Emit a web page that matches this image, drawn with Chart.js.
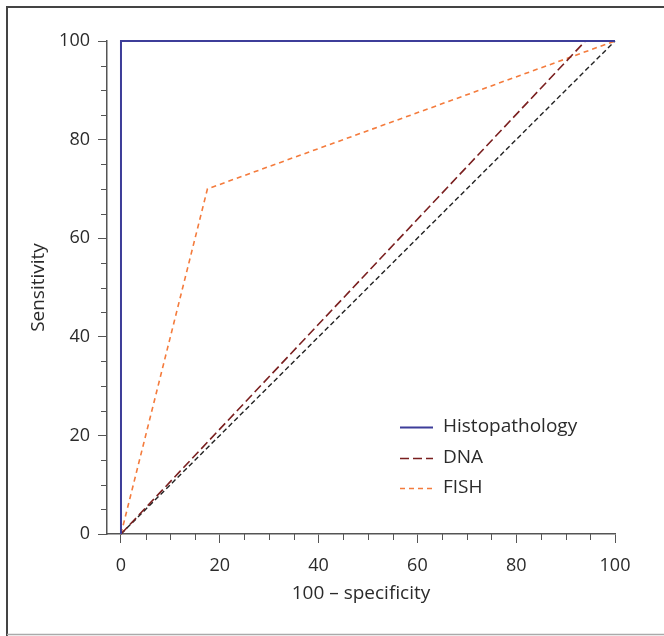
<!DOCTYPE html>
<html>
<head>
<meta charset="utf-8">
<script src="https://cdn.jsdelivr.net/npm/chart.js@4.4.0/dist/chart.umd.min.js"></script>
<style>
html,body{margin:0;padding:0;background:#fff;}
#wrap{width:664px;height:636px;position:relative;}
</style>
</head>
<body>
<div id="wrap"><canvas id="c" width="664" height="636"></canvas></div>
<script>
// ----- data -----
const seriesNames = ['Histopathology', 'DNA', 'FISH'];
const histoX = [0, 0, 100];
const histoY = [0, 100, 100];
const dnaX = [0, 94, 100];
const dnaY = [0, 100, 100];
const fishX = [0, 17.5, 100];
const fishY = [0, 70, 100];
const refX = [0, 100];
const refY = [0, 100];
const tickValues = [0,5,10,15,20,25,30,35,40,45,50,55,60,65,70,75,80,85,90,95,100];
const majorTicks = [0, 20, 40, 60, 80, 100];
const xTitle = '100 \u2013 specificity';
const yTitle = 'Sensitivity';

const pts = (xs, ys) => xs.map((x, i) => ({x: x, y: ys[i]}));
const FONT = '"Open Sans", "DejaVu Sans", sans-serif';
const TXT = '#2b2b2b';
const AXIS = '#555555';

const frame = {
  id: 'frame',
  beforeDraw(chart) {
    const c = chart.ctx;
    c.save();
    c.fillStyle = '#fff';
    c.fillRect(0, 0, chart.width, chart.height);
    c.strokeStyle = '#444';
    c.lineWidth = 2;
    c.beginPath();
    c.moveTo(7, 636); c.lineTo(7, 7); c.lineTo(664, 7);
    c.stroke();
    c.strokeStyle = '#aaaaaa';
    c.lineWidth = 1.5;
    c.beginPath();
    c.moveTo(7, 634.5); c.lineTo(664, 634.5);
    c.stroke();
    c.restore();
  }
};

const minorTicks = {
  id: 'minorTicks',
  afterDraw(chart) {
    const c = chart.ctx;
    const xs = chart.scales.x, ys = chart.scales.y;
    c.save();
    c.strokeStyle = AXIS;
    c.lineWidth = 1;
    tickValues.forEach(v => {
      if (majorTicks.includes(v)) return;
      const px = Math.round(xs.getPixelForValue(v)) + 0.5;
      c.beginPath(); c.moveTo(px, xs.top); c.lineTo(px, xs.top + 6); c.stroke();
      const py = Math.round(ys.getPixelForValue(v)) + 0.5;
      c.beginPath(); c.moveTo(ys.right, py); c.lineTo(ys.right - 6, py); c.stroke();
    });
    c.restore();
  }
};

const legendBox = {
  id: 'legendBox',
  afterDraw(chart) {
    const c = chart.ctx;
    c.save();
    c.font = '19px ' + FONT;
    c.textBaseline = 'middle';
    c.fillStyle = TXT;
    const rows = [427, 458, 488];
    seriesNames.forEach((name, i) => {
      const ds = chart.data.datasets.find(d => d.label === name);
      const y = rows[i] + 0.5;
      c.strokeStyle = ds.borderColor;
      c.lineWidth = ds.borderWidth;
      c.setLineDash(ds.borderDash || []);
      c.beginPath(); c.moveTo(400, y); c.lineTo(433, y); c.stroke();
      c.setLineDash([]);
      c.fillText(name, 443, rows[i]);
    });
    c.restore();
  }
};

new Chart(document.getElementById('c'), {
  type: 'scatter',
  data: {
    datasets: [
      {label: 'Histopathology', data: pts(histoX, histoY), showLine: true, borderColor: '#3d3d99', borderWidth: 2, pointRadius: 0, clip: 5},
      {label: 'DNA', data: pts(dnaX, dnaY), showLine: true, borderColor: '#7a1f1f', borderWidth: 1.6, borderDash: [9, 4], pointRadius: 0, clip: 5},
      {label: 'FISH', data: pts(fishX, fishY), showLine: true, borderColor: '#f47b3c', borderWidth: 1.6, borderDash: [5, 4], pointRadius: 0, clip: 5},
      {label: 'ref', data: pts(refX, refY), showLine: true, borderColor: '#222222', borderWidth: 1.4, borderDash: [5, 3], pointRadius: 0, clip: 5}
    ]
  },
  options: {
    responsive: false,
    animation: false,
    events: [],
    layout: {padding: {left: 0, top: 41, right: 49, bottom: 0}},
    plugins: {legend: {display: false}, tooltip: {enabled: false}},
    scales: {
      x: {
        type: 'linear', min: -2.83, max: 100,
        afterBuildTicks: s => { s.ticks = tickValues.map(v => ({value: v})); },
        afterFit: s => { s.height = 102; },
        border: {display: true, color: AXIS, width: 1.5},
        grid: {display: true, drawOnChartArea: false, drawTicks: true, tickLength: 9,
               tickColor: ctx => majorTicks.includes(ctx.tick && ctx.tick.value) ? AXIS : 'rgba(0,0,0,0)', tickWidth: 1},
        ticks: {color: TXT, font: {family: FONT, size: 18}, padding: 12, maxRotation: 0, autoSkip: false,
                callback: v => majorTicks.includes(v) ? String(v) : ''},
        title: {display: true, text: xTitle, color: TXT, font: {family: FONT, size: 19}, padding: {top: 0, bottom: 31}}
      },
      y: {
        type: 'linear', min: 0, max: 100,
        afterBuildTicks: s => { s.ticks = tickValues.map(v => ({value: v})); },
        afterFit: s => { s.width = 107; },
        border: {display: true, color: AXIS, width: 1.5},
        grid: {display: true, drawOnChartArea: false, drawTicks: true, tickLength: 9,
               tickColor: ctx => majorTicks.includes(ctx.tick && ctx.tick.value) ? AXIS : 'rgba(0,0,0,0)', tickWidth: 1},
        ticks: {color: TXT, font: {family: FONT, size: 18}, padding: 8, autoSkip: false,
                callback: v => majorTicks.includes(v) ? String(v) : ''},
        title: {display: true, text: yTitle, color: TXT, font: {family: FONT, size: 19}, padding: {top: 27, bottom: 0}}
      }
    }
  },
  plugins: [frame, minorTicks, legendBox]
});
</script>
</body>
</html>
